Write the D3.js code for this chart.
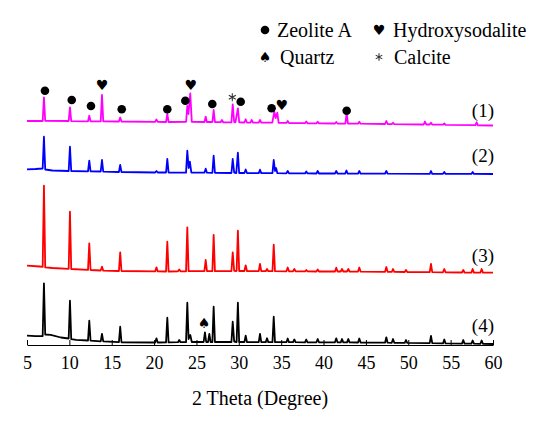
<!DOCTYPE html>
<html>
<head>
<meta charset="utf-8">
<script src="https://cdn.jsdelivr.net/npm/d3@7"></script>
<style>
  body { margin: 0; background: #fff; }
  svg { display: block; font-family: "Liberation Serif", "Times New Roman", serif; }
  .tick text { font-family: "Liberation Serif", "Times New Roman", serif; }
</style>
</head>
<body>
<div id="chart"></div>
<script>
// XRD patterns, intensity (a.u.), 2 theta in degrees
const trace1 = [
    [5, 80], [6.85, 80], [7.0, 317], [7.15, 82],
    [9.92, 80], [10.07, 217], [10.22, 78],
    [12.2, 77], [12.35, 133], [12.5, 77],
    [13.7, 76], [13.85, 340], [14.0, 76],
    [15.85, 75], [16.0, 115], [16.15, 75],
    [20.13, 71], [20.28, 95], [20.43, 71],
    [21.41, 70], [21.56, 150], [21.71, 70],
    [23.78, 72], [23.92, 230], [24.05, 150], [24.27, 357], [24.45, 72],
    [25.95, 70], [26.09, 123], [26.23, 70],
    [26.88, 70], [27.03, 190], [27.18, 68],
    [27.85, 68], [28.0, 90], [28.15, 67],
    [29.13, 67], [29.28, 247], [29.45, 70], [29.6, 66], [29.89, 207], [30.05, 66],
    [30.66, 65], [30.81, 97], [30.96, 65],
    [31.37, 64], [31.52, 90], [31.67, 64],
    [32.35, 63], [32.5, 90], [32.65, 63],
    [33.95, 63], [34.19, 173], [34.35, 110], [34.54, 163], [34.7, 62],
    [35.62, 61], [35.77, 80], [35.92, 60],
    [37.81, 58], [37.96, 75], [38.11, 57],
    [39.16, 56], [39.31, 72], [39.46, 56],
    [41.35, 55], [41.5, 70], [41.65, 55],
    [42.58, 54], [42.73, 160], [42.88, 54],
    [44.07, 53], [44.22, 72], [44.37, 53],
    [47.26, 50], [47.41, 80], [47.56, 50],
    [48.05, 49], [48.2, 62], [48.35, 49],
    [51.82, 45], [51.97, 75], [52.12, 45],
    [52.53, 45], [52.68, 62], [52.83, 44],
    [54.1, 43], [54.25, 55], [54.4, 42],
    [57.92, 38], [58.07, 67], [58.22, 37],
    [60, 35]
];

const trace2 = [
    [5, 47], [6.0, 50], [6.85, 55], [7.0, 373], [7.15, 45],
    [8.0, 35], [9.92, 30], [10.07, 273], [10.22, 30],
    [12.2, 27], [12.35, 133], [12.5, 26],
    [13.7, 25], [13.85, 140], [14.0, 24],
    [15.85, 20], [16.0, 90], [16.15, 20],
    [20.13, 15], [20.28, 30], [20.43, 15],
    [21.41, 15], [21.56, 150], [21.71, 15],
    [23.77, 14], [23.92, 233], [24.08, 60], [24.22, 123], [24.4, 14],
    [25.94, 13], [26.09, 53], [26.24, 13],
    [26.88, 12], [27.03, 183], [27.18, 12],
    [29.13, 10], [29.28, 150], [29.45, 15], [29.7, 10], [29.89, 213], [30.04, 10],
    [30.66, 10], [30.81, 45], [30.96, 10],
    [32.35, 9], [32.5, 43], [32.65, 9],
    [33.97, 8], [34.12, 140], [34.27, 30], [34.4, 60], [34.55, 8],
    [35.62, 7], [35.77, 30], [35.92, 7],
    [37.81, 6], [37.96, 25], [38.11, 6],
    [39.16, 5], [39.31, 30], [39.46, 5],
    [41.35, 5], [41.5, 30], [41.65, 5],
    [42.55, 4], [42.7, 35], [42.85, 4],
    [44.07, 4], [44.22, 30], [44.37, 4],
    [47.26, 3], [47.41, 30], [47.56, 3],
    [52.53, 2], [52.68, 30], [52.83, 2],
    [54.1, 2], [54.25, 20], [54.4, 1],
    [57.45, 1], [57.6, 20], [57.75, 1],
    [60, 0]
];

const trace3 = [
    [5, 83], [6.5, 75], [6.85, 72], [7.0, 883], [7.15, 66],
    [8.0, 60], [9.92, 52], [10.07, 623], [10.22, 50],
    [12.2, 41], [12.35, 307], [12.5, 40],
    [13.7, 35], [13.85, 73], [14.0, 34],
    [15.85, 30], [16.0, 217], [16.15, 30],
    [20.13, 26], [20.28, 67], [20.43, 26],
    [21.41, 25], [21.56, 323], [21.71, 25],
    [22.82, 27], [22.97, 45], [23.12, 27],
    [23.77, 27], [23.92, 467], [24.07, 28],
    [25.94, 28], [26.09, 140], [26.24, 28],
    [26.88, 29], [27.03, 390], [27.18, 29],
    [29.13, 30], [29.28, 217], [29.45, 32], [29.74, 30], [29.89, 433], [30.04, 30],
    [30.66, 30], [30.81, 87], [30.96, 30],
    [32.35, 29], [32.5, 100], [32.65, 29],
    [33.18, 28], [33.33, 50], [33.48, 28],
    [33.97, 28], [34.12, 293], [34.27, 28],
    [35.62, 27], [35.77, 65], [35.92, 27],
    [36.4, 27], [36.55, 50], [36.7, 27],
    [37.81, 26], [37.96, 40], [38.11, 26],
    [39.16, 25], [39.31, 45], [39.46, 25],
    [41.35, 25], [41.5, 63], [41.65, 25],
    [42.03, 25], [42.18, 50], [42.33, 25],
    [42.77, 25], [42.92, 50], [43.07, 25],
    [44.07, 24], [44.22, 65], [44.37, 24],
    [47.26, 22], [47.41, 70], [47.56, 22],
    [48.05, 21], [48.2, 50], [48.35, 21],
    [49.58, 20], [49.73, 40], [49.88, 20],
    [52.53, 18], [52.68, 100], [52.83, 18],
    [54.1, 17], [54.25, 50], [54.4, 17],
    [56.34, 15], [56.49, 40], [56.64, 15],
    [57.45, 14], [57.6, 50], [57.75, 14],
    [58.51, 14], [58.66, 50], [58.81, 14],
    [60, 13]
];

const trace4 = [
    [5, 83], [6.0, 78], [6.85, 80], [7.0, 607], [7.15, 95], [7.8, 92], [9.0, 65],
    [9.92, 55], [10.07, 433], [10.22, 48],
    [10.8, 42], [12.2, 35], [12.35, 233], [12.5, 34],
    [13.7, 27], [13.85, 100], [14.0, 26],
    [15.85, 18], [16.0, 173], [16.15, 17],
    [20.13, 15], [20.28, 57], [20.43, 15],
    [21.41, 16], [21.56, 263], [21.71, 16],
    [22.82, 18], [22.97, 40], [23.12, 18],
    [23.77, 19], [23.92, 413], [24.07, 50], [24.27, 90], [24.45, 20],
    [25.85, 20], [26.0, 117], [26.15, 20], [26.37, 20], [26.52, 100], [26.67, 20],
    [26.88, 20], [27.03, 373], [27.18, 20],
    [29.13, 20], [29.28, 223], [29.45, 25], [29.74, 20], [29.89, 413], [30.04, 20],
    [30.66, 20], [30.81, 83], [30.96, 20],
    [32.35, 19], [32.5, 100], [32.65, 19],
    [33.18, 19], [33.33, 57], [33.48, 19],
    [33.97, 18], [34.12, 273], [34.27, 18],
    [35.62, 18], [35.77, 55], [35.92, 18],
    [36.4, 18], [36.55, 45], [36.7, 18],
    [37.81, 17], [37.96, 45], [38.11, 17],
    [39.16, 17], [39.31, 50], [39.46, 17],
    [41.35, 17], [41.5, 57], [41.65, 17],
    [42.03, 16], [42.18, 50], [42.33, 16],
    [42.77, 16], [42.92, 50], [43.07, 16],
    [44.07, 15], [44.22, 55], [44.37, 15],
    [47.26, 13], [47.41, 67], [47.56, 13],
    [48.05, 12], [48.2, 50], [48.35, 12],
    [49.58, 11], [49.73, 40], [49.88, 11],
    [52.53, 8], [52.68, 80], [52.83, 8],
    [54.1, 6], [54.25, 45], [54.4, 6],
    [56.34, 4], [56.49, 40], [56.64, 4],
    [57.45, 3], [57.6, 35], [57.75, 3],
    [58.51, 2], [58.66, 35], [58.81, 2],
    [60, 0]
];

const traceNames = ['(1)', '(2)', '(3)', '(4)'];
const traceColors = ['#ff00ff', '#0000ff', '#ff0000', '#000000'];
const offsets = [2160, 1710, 710, 10];   // vertical stacking of patterns
const xTicks = [5, 10, 15, 20, 25, 30, 35, 40, 45, 50, 55, 60];

// phase marks: [2theta, intensity on the pattern they belong to]
const zeoliteA = [[7.12, 383], [10.28, 290], [12.55, 230], [16.18, 197], [21.56, 197],
    [23.69, 283], [26.87, 250], [30.22, 273], [33.87, 207], [42.73, 183]];
const hydroxysodalite = [[13.85, 440], [24.32, 440], [35.06, 240]];
const calcite = [[29.23, 317]];
const quartz = [[25.89, 213]];   // on pattern (4)

const legendItems = [
    { label: 'Zeolite A', kind: 'circle' },
    { label: 'Hydroxysodalite', kind: 'heart' },
    { label: 'Quartz', kind: 'spade' },
    { label: 'Calcite', kind: 'asterisk' }
];

const width = 550, height = 423;
const svg = d3.select('#chart').append('svg')
    .attr('width', width)
    .attr('height', height);

const xScale = d3.scaleLinear().domain([5, 60]).range([27, 493]);
const yScale = d3.scaleLinear().domain([0, 2800]).range([345, 65]);

// x axis with small inward ticks
const xAxis = d3.axisBottom(xScale)
    .tickValues(xTicks)
    .tickFormat(d3.format('d'))
    .tickSizeInner(-5)
    .tickSizeOuter(0)
    .tickPadding(11);

const gx = svg.append('g')
    .attr('transform', 'translate(0,' + yScale(0) + ')')
    .call(xAxis)
    .attr('font-family', null)
    .attr('font-size', null);
gx.select('.domain').attr('stroke', '#000').attr('stroke-width', 1.2);
gx.selectAll('.tick line').attr('stroke', '#000').attr('stroke-width', 1);
gx.selectAll('.tick text')
    .style('font-size', '18px')
    .attr('fill', '#000');

svg.append('text')
    .attr('x', (xScale(5) + xScale(60)) / 2)
    .attr('y', 405)
    .attr('text-anchor', 'middle')
    .attr('font-size', 20)
    .text('2 Theta (Degree)');

// patterns
const traces = [trace1, trace2, trace3, trace4];
traces.forEach(function (data, i) {
    const line = d3.line()
        .x(function (d) { return xScale(d[0]); })
        .y(function (d) { return yScale(d[1] + offsets[i]); });
    svg.append('path')
        .datum(data)
        .attr('fill', 'none')
        .attr('stroke', traceColors[i])
        .attr('stroke-width', 1.8)
        .attr('stroke-linejoin', 'round')
        .attr('d', line);

    svg.append('text')
        .attr('x', xScale(60) + 1)
        .attr('y', yScale(offsets[i]) - 12)
        .attr('text-anchor', 'end')
        .attr('font-size', 19)
        .text(traceNames[i]);
});

// phase marks on pattern (1) and (4)
svg.selectAll('circle.zeo')
    .data(zeoliteA)
    .enter()
    .append('circle')
    .attr('cx', function (d) { return xScale(d[0]); })
    .attr('cy', function (d) { return yScale(d[1] + offsets[0]); })
    .attr('r', 4.3)
    .attr('fill', '#000');

svg.selectAll('text.hs')
    .data(hydroxysodalite)
    .enter()
    .append('text')
    .attr('x', function (d) { return xScale(d[0]); })
    .attr('y', function (d) { return yScale(d[1] + offsets[0]) + 5; })
    .attr('text-anchor', 'middle')
    .attr('font-family', '"DejaVu Sans", sans-serif')
    .attr('font-size', 14)
    .text('\u2665');

svg.selectAll('path.cal')
    .data(calcite)
    .enter()
    .append('path')
    .attr('transform', function (d) {
        return 'translate(' + xScale(d[0]) + ',' + yScale(d[1] + offsets[0]) + ')';
    })
    .attr('d', d3.symbol(d3.symbolAsterisk, 45))
    .attr('fill', 'none')
    .attr('stroke', '#333')
    .attr('stroke-width', 1.1);

svg.selectAll('text.qz')
    .data(quartz)
    .enter()
    .append('text')
    .attr('x', function (d) { return xScale(d[0]); })
    .attr('y', function (d) { return yScale(d[1] + offsets[3]) + 5; })
    .attr('text-anchor', 'middle')
    .attr('font-family', '"DejaVu Sans", sans-serif')
    .attr('font-size', 14)
    .text('\u2660');

// legend, two columns by two rows
const legend = svg.append('g').attr('transform', 'translate(265,30)');
legendItems.forEach(function (item, i) {
    const col = i % 2, row = Math.floor(i / 2);
    const g = legend.append('g')
        .attr('transform', 'translate(' + (col * 114) + ',' + (row * 27) + ')');
    if (item.kind === 'circle') {
        g.append('circle').attr('r', 4.3).attr('fill', '#000');
    } else if (item.kind === 'asterisk') {
        g.append('path')
            .attr('d', d3.symbol(d3.symbolAsterisk, 40))
            .attr('fill', 'none')
            .attr('stroke', '#333')
            .attr('stroke-width', 1.1);
    } else {
        g.append('text')
            .attr('y', 5)
            .attr('text-anchor', 'middle')
            .attr('font-family', '"DejaVu Sans", sans-serif')
            .attr('font-size', 14)
            .text(item.kind === 'heart' ? '\u2665' : '\u2660');
    }
    g.append('text')
        .attr('x', item.kind === 'circle' ? 12 : (item.kind === 'heart' ? 14 : 15))
        .attr('y', 7)
        .attr('font-size', 20)
        .text(item.label);
});
</script>
</body>
</html>
